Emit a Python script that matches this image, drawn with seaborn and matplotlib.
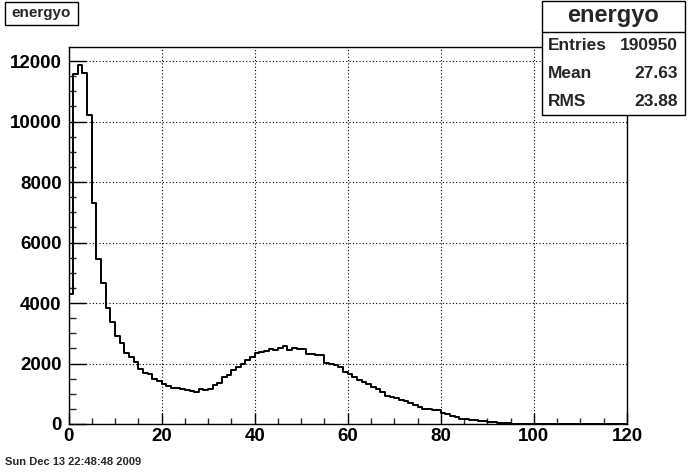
import numpy as np
import pandas as pd
import matplotlib
matplotlib.use("Agg")
import matplotlib.pyplot as plt
import seaborn as sns
from matplotlib.patches import Rectangle
from matplotlib.lines import Line2D
from matplotlib.ticker import MultipleLocator

# bin contents of energyo, 1 unit wide bins from 0 to 120
counts = [4300, 11580, 11860, 11610, 10210, 7300, 5450, 4650, 3830, 3360,
          2900, 2670, 2340, 2230, 2040, 1820, 1690, 1640, 1480, 1430,
          1330, 1260, 1200, 1190, 1160, 1120, 1100, 1070, 1150, 1120,
          1150, 1290, 1370, 1540, 1620, 1790, 1890, 1970, 2120, 2200,
          2340, 2380, 2410, 2470, 2450, 2500, 2580, 2450, 2500, 2470,
          2470, 2310, 2310, 2290, 2280, 2030, 2000, 1950, 1870, 1730,
          1650, 1540, 1450, 1380, 1310, 1230, 1160, 1070, 940, 900,
          850, 790, 760, 680, 620, 550, 500, 490, 460, 460,
          370, 320, 265, 220, 180, 150, 130, 125, 100, 90,
          70, 60, 40, 30, 20, 10] + [0] * 24
x_range = (0, 120)
hist_name = "energyo"
stat_labels = ["Entries", "Mean", "RMS"]
stat_values = ["190950", "27.63", "23.88"]
date_text = "Sun Dec 13 22:48:48 2009"

W, H = 696, 472

def fx(x):
    return x / W

def fy(y):
    return 1 - y / H

sns.set_style("ticks")
plt.rcParams["font.family"] = ["Liberation Sans", "DejaVu Sans"]
plt.rcParams["font.weight"] = "bold"

df = pd.DataFrame({"x": np.arange(len(counts)) + 0.5, "w": counts})

fig = plt.figure(figsize=(W / 100, H / 100), dpi=100)
fig.patch.set_facecolor("white")
ax = fig.add_axes([fx(68.5), fy(424), fx(627) - fx(68.5), fy(46.5) - fy(424)])

sns.histplot(data=df, x="x", weights="w", binwidth=1, binrange=x_range,
             element="step", fill=False, color="black", linewidth=1.4, ax=ax)

ax.set_xlim(*x_range)
ax.set_ylim(0, 12480)
ax.set_xlabel("")
ax.set_ylabel("")
ax.xaxis.set_major_locator(MultipleLocator(20))
ax.xaxis.set_minor_locator(MultipleLocator(5))
ax.yaxis.set_major_locator(MultipleLocator(2000))
ax.yaxis.set_minor_locator(MultipleLocator(500))
ax.tick_params(axis="x", which="major", direction="in", length=8, width=1, pad=3,
               labelsize=13.5, colors="black")
ax.tick_params(axis="x", which="minor", direction="in", length=4.3, width=1)
ax.tick_params(axis="y", which="major", direction="in", length=12.5, width=1, pad=5,
               labelsize=13.5, colors="black")
ax.tick_params(axis="y", which="minor", direction="in", length=5, width=1)
for lab in ax.get_xticklabels() + ax.get_yticklabels():
    lab.set_fontweight("bold")

ax.grid(True, which="major", color="black", linewidth=0.8, linestyle=(0, (1, 2)))
ax.set_axisbelow(True)
for s in ax.spines.values():
    s.set_visible(True)
    s.set_color("black")
    s.set_linewidth(1)

# title box
fig.add_artist(Rectangle((fx(5), fy(25)), fx(78) - fx(5), fy(2) - fy(25),
                         transform=fig.transFigure, facecolor="white",
                         edgecolor="black", linewidth=1, zorder=5))
fig.text(fx(41.5), fy(13.5), hist_name, ha="center", va="center",
         fontsize=11, fontweight="bold", zorder=6)

# stats box
fig.add_artist(Rectangle((fx(542), fy(115)), fx(685) - fx(542), fy(1) - fy(115),
                         transform=fig.transFigure, facecolor="white",
                         edgecolor="black", linewidth=1, zorder=5))
fig.add_artist(Line2D([fx(542), fx(685)], [fy(32), fy(32)],
                      transform=fig.transFigure, color="black", linewidth=1, zorder=6))
fig.text(fx(613.5), fy(15.5), hist_name, ha="center", va="center",
         fontsize=17, fontweight="bold", zorder=6)
for i, (lab, val) in enumerate(zip(stat_labels, stat_values)):
    yy = 45 + i * 28.5
    fig.text(fx(548), fy(yy), lab, ha="left", va="center",
             fontsize=12.5, fontweight="bold", zorder=6)
    fig.text(fx(678), fy(yy), val, ha="right", va="center",
             fontsize=12.5, fontweight="bold", zorder=6)

fig.text(fx(5), fy(462), date_text, ha="left", va="center",
         fontsize=8, fontweight="bold")

fig.savefig("out.png", dpi=100)
